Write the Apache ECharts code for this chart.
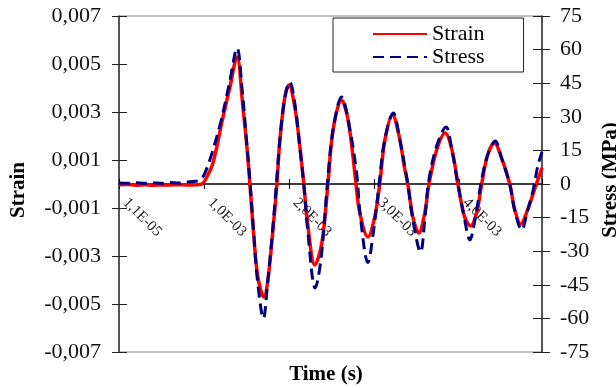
<!DOCTYPE html>
<html>
<head>
<meta charset="utf-8">
<script src="https://cdn.jsdelivr.net/npm/echarts@6/dist/echarts.min.js"></script>
<style>
html,body{margin:0;padding:0;background:#fff;}
#chart{width:616px;height:388px;}
</style>
</head>
<body>
<div id="chart"></div>
<script>
// Time in milliseconds (axis is in seconds)
var strainTimeMs = [0,0.1,0.2,0.3,0.4,0.5,0.6,0.7,0.8,0.9,0.97,1.02,1.106,1.224,1.306,1.388,1.459,1.506,1.541,1.588,1.635,1.706,1.753,1.812,1.859,1.894,1.953,2.0,2.07,2.13,2.176,2.22,2.306,2.388,2.46,2.52,2.62,2.69,2.75,2.79,2.835,2.93,3.01,3.07,3.13,3.22,3.3,3.36,3.4,3.46,3.53,3.6,3.65,3.74,3.84,3.92,3.99,4.07,4.14,4.21,4.27,4.34,4.42,4.5,4.6,4.66,4.73,4.81,4.89,4.98];
var strainValues = [-0.00003,-0.00002,-0.00005,-0.00003,-0.00005,-0.00004,-0.00004,-0.00003,-0.00004,-0.00003,-0.00001,0.0002,0.000875,0.00279,0.00404,0.00529,0.0032,0.00154,0,-0.0022,-0.00388,-0.00471,-0.004,-0.00192,0,0.00183,0.00363,0.00413,0.0032,0.00154,0,-0.00163,-0.00338,-0.00246,0,0.00225,0.0035,0.0028,0.00129,0,-0.0012,-0.00221,-0.00138,0,0.00183,0.00288,0.00196,0.0007,0,-0.00138,-0.00204,-0.0012,0,0.00142,0.00212,0.00142,0,-0.00138,-0.00175,-0.0012,0,0.00121,0.00171,0.00113,0,-0.00108,-0.00167,-0.00108,-0.00025,0.00067];

var stressTimeMs = [0,0.1,0.2,0.3,0.4,0.5,0.6,0.7,0.8,0.9,0.95,1.0,1.08,1.2,1.3,1.39,1.45,1.5,1.54,1.59,1.63,1.70,1.75,1.81,1.855,1.89,1.95,2.01,2.07,2.13,2.18,2.22,2.31,2.38,2.455,2.52,2.62,2.72,2.8,2.84,2.93,3.0,3.065,3.13,3.23,3.3,3.4,3.46,3.55,3.6,3.645,3.74,3.85,3.92,3.99,4.07,4.13,4.2,4.265,4.34,4.43,4.5,4.6,4.66,4.74,4.81,4.88,4.93,4.98];
var stressValues = [0.4,0.3,0.6,0.3,0.5,0.3,0.7,0.4,0.9,1.2,1.8,4,12,28,45,60.7,42,20,2,-24,-43,-60,-44,-20,1,18,38,45.5,36,16,-2,-20,-46.4,-33,1,24,38.8,24,4,-14,-35,-20,1,20,31.7,21,0,-16,-30.4,-16,1,17,25.4,15,0,-16,-25,-14,1,13,19.2,12,0,-12,-20.5,-12,-2,8,14.3];

var strainTicks = ['0,007','0,005','0,003','0,001','-0,001','-0,003','-0,005','-0,007'];
var stressTicks = [75,60,45,30,15,0,-15,-30,-45,-60,-75];
var timeTickLabels = ['1,1E-05','1,0E-03','2,0E-03','3,0E-03','4,0E-03'];

var seriesNames = ['Strain','Stress'];

function pairs(ts, vs){ var o=[]; for(var i=0;i<ts.length;i++){ o.push([ts[i]/1000, vs[i]]); } return o; }

var FONT = '"Liberation Serif","Times New Roman",serif';
var chart = echarts.init(document.getElementById('chart'), null, {renderer:'canvas'});

function xLabel(v){
  var k = Math.round(v*1000);
  if (Math.abs(v*1000 - k) > 1e-6 || k >= timeTickLabels.length) return '';
  return timeTickLabels[k];
}
function strainLabel(v){
  var k = Math.round((0.007 - v)/0.002);
  return strainTicks[k] !== undefined ? strainTicks[k] : '';
}
function stressLabel(v){
  var k = Math.round((75 - v)/15);
  return stressTicks[k] !== undefined ? String(stressTicks[k]) : '';
}

// grid: top 16, bottom edge at 352 -> zero line at 184 (168 px above bottom)
var ZERO_OFFSET = -168;

var option = {
  backgroundColor:'#ffffff',
  animation:false,
  grid:{left:119, right:74, top:16, bottom:36, containLabel:false, outerBoundsMode:'none', show:true, borderColor:'#808080', borderWidth:1, backgroundColor:'transparent'},
  legend:{
    show:true,
    orient:'vertical', left:333, top:18,
    data:seriesNames,
    itemWidth:54, itemHeight:14, itemGap:1,
    padding:[5,39,4,39],
    borderColor:'#222', borderWidth:1, backgroundColor:'#fff',
    itemStyle:{color:'rgba(0,0,0,0)', borderWidth:0, opacity:0},
    textStyle:{fontFamily:FONT, fontSize:22, color:'#000'},
    selectedMode:false
  },
  xAxis:[{
    type:'value', min:0, max:0.00498, interval:0.001, position:'bottom', offset:ZERO_OFFSET,
    axisLine:{show:true, onZero:false, lineStyle:{color:'#000', width:1.5}},
    axisTick:{show:true, length:5, lineStyle:{color:'#000', width:1}},
    axisLabel:{show:true, rotate:-45, margin:10, padding:[0,0,0,9], formatter:xLabel, fontFamily:FONT, fontSize:15, color:'#222', showMaxLabel:false},
    splitLine:{show:false}
  },{
    type:'value', min:0, max:0.00498, interval:0.001, position:'bottom', offset:ZERO_OFFSET,
    axisLine:{show:false, onZero:false},
    axisTick:{show:true, inside:true, length:5, lineStyle:{color:'#000', width:1}},
    axisLabel:{show:false}, splitLine:{show:false}
  }],
  yAxis:[{
    type:'value', position:'left', min:-0.007, max:0.007, interval:0.002,
    axisLine:{show:true, onZero:false, lineStyle:{color:'#333', width:1.5}},
    axisTick:{show:true, length:7, lineStyle:{color:'#222', width:1}},
    axisLabel:{margin:18, formatter:strainLabel, fontFamily:FONT, fontSize:22, color:'#111'},
    splitLine:{show:false}
  },{
    type:'value', position:'right', min:-75, max:75, interval:15,
    axisLine:{show:true, onZero:false, lineStyle:{color:'#333', width:1.5}},
    axisTick:{show:true, length:8, lineStyle:{color:'#222', width:1}},
    axisLabel:{margin:18, formatter:stressLabel, fontFamily:FONT, fontSize:22, color:'#111'},
    splitLine:{show:false}
  },{
    type:'value', position:'left', min:-0.007, max:0.007, interval:0.002,
    axisLine:{show:false, onZero:false},
    axisTick:{show:true, inside:true, length:8, lineStyle:{color:'#222', width:1}},
    axisLabel:{show:false}, splitLine:{show:false}
  },{
    type:'value', position:'right', min:-75, max:75, interval:15,
    axisLine:{show:false, onZero:false},
    axisTick:{show:true, inside:true, length:9, lineStyle:{color:'#222', width:1}},
    axisLabel:{show:false}, splitLine:{show:false}
  }],
  series:[{
    name:seriesNames[0], type:'line', xAxisIndex:0, yAxisIndex:0,
    data:pairs(strainTimeMs, strainValues),
    smooth:0.35, showSymbol:false, symbol:'none',
    lineStyle:{color:'#ff0000', width:3.5},
    itemStyle:{color:'#ff0000'}, z:3
  },{
    name:seriesNames[1], type:'line', xAxisIndex:0, yAxisIndex:1,
    data:pairs(stressTimeMs, stressValues),
    smooth:0.35, showSymbol:false, symbol:'none',
    lineStyle:{color:'#000080', width:3, type:[11,6]},
    itemStyle:{color:'#000080'}, z:4
  }],
  graphic:[
    {type:'text', x:19, y:190, rotation:Math.PI/2, style:{text:'Strain', font:'bold 21px '+FONT, fill:'#000', align:'center', verticalAlign:'middle'}},
    {type:'text', x:611, y:180, rotation:Math.PI/2, style:{text:'Stress (MPa)', font:'bold 21px '+FONT, fill:'#000', align:'center', verticalAlign:'middle'}},
    {type:'text', x:326, y:375, style:{text:'Time (s)', font:'bold 21px '+FONT, fill:'#000', align:'center', verticalAlign:'middle'}}
  ]
};
chart.setOption(option);
</script>
</body>
</html>
